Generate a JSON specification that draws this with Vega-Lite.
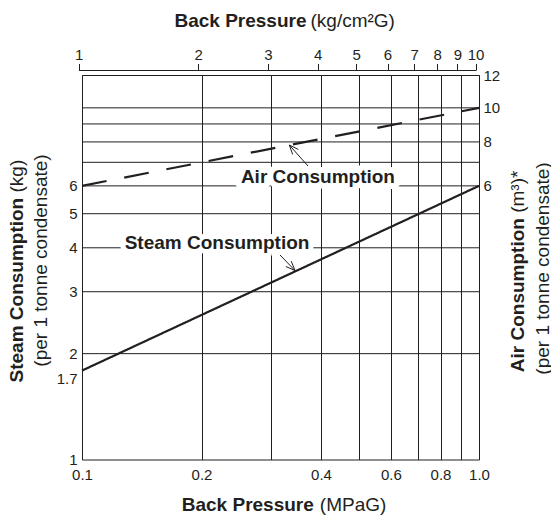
{
  "$schema": "https://vega.github.io/schema/vega-lite/v6.json",
  "width": 397,
  "height": 384.5,
  "autosize": {"type": "none"},
  "padding": {"left": 82, "top": 75, "right": 72, "bottom": 55.5},
  "background": "white",
  "config": {
    "font": "Liberation Sans",
    "view": {"stroke": "#231f20", "strokeWidth": 1},
    "axis": {
      "labelFont": "Liberation Sans",
      "titleFont": "Liberation Sans",
      "labelFontSize": 15,
      "titleFontSize": 19,
      "labelColor": "#231f20",
      "titleColor": "#231f20",
      "ticks": false,
      "tickSize": 0,
      "domain": false,
      "grid": false,
      "labelOverlap": false,
      "labelFlush": false,
      "labelBound": false
    }
  },
  "datasets": {
    "lines": [
      {"series": "Steam", "p": 0.1, "v": 1.79},
      {"series": "Steam", "p": 1.0, "v": 6.0},
      {"series": "Air", "p": 0.1, "v": 6.0},
      {"series": "Air", "p": 1.0, "v": 10.0}
    ],
    "grid": [{"v": 2}, {"v": 3}, {"v": 4}, {"v": 5}, {"v": 6}, {"v": 7}, {"v": 8}, {"v": 9}, {"v": 10}],
    "kg": [{"k": 1}, {"k": 2}, {"k": 3}, {"k": 4}, {"k": 5}, {"k": 6}, {"k": 7}, {"k": 8}, {"k": 9}, {"k": 10}],
    "labels": [
      {"label": "Air Consumption", "p": 0.3929, "v": 6.10},
      {"label": "Steam Consumption", "p": 0.2188, "v": 3.961}
    ],
    "arrows": [
      {"part": "airShaft", "seq": 1, "p": 0.371, "v": 6.83},
      {"part": "airShaft", "seq": 2, "p": 0.3328, "v": 7.84},
      {"part": "airHead", "seq": 1, "p": 0.3507, "v": 7.615},
      {"part": "airHead", "seq": 2, "p": 0.3328, "v": 7.84},
      {"part": "airHead", "seq": 3, "p": 0.3394, "v": 7.37},
      {"part": "steamShaft", "seq": 1, "p": 0.3153, "v": 3.816},
      {"part": "steamShaft", "seq": 2, "p": 0.344, "v": 3.446},
      {"part": "steamHead", "seq": 1, "p": 0.3263, "v": 3.538},
      {"part": "steamHead", "seq": 2, "p": 0.344, "v": 3.446},
      {"part": "steamHead", "seq": 3, "p": 0.3365, "v": 3.664}
    ]
  },
  "resolve": {
    "scale": {"x": "independent"},
    "axis": {"x": "independent", "y": "independent"}
  },
  "layer": [
    {
      "data": {"name": "grid"},
      "mark": {"type": "rule", "color": "#231f20", "strokeWidth": 1},
      "encoding": {
        "y": {
          "field": "v", "type": "quantitative",
          "scale": {"type": "log", "domain": [1, 12.4], "nice": false},
          "axis": {
            "orient": "right",
            "values": [6, 8, 10, 12.4],
            "labelExpr": "datum.value > 12 ? '12' : format(datum.value, 'd')",
            "labelPadding": 4,
            "title": "Air Consumption",
            "titleFontWeight": "bold",
            "titleAngle": 270,
            "titleAlign": "left",
            "titleBaseline": "middle",
            "titleX": 38.5,
            "titleY": 296.7
          }
        }
      }
    },
    {
      "data": {"name": "lines"},
      "mark": {"type": "line", "color": "#231f20", "strokeWidth": 2.2, "strokeCap": "butt"},
      "encoding": {
        "x": {
          "field": "p", "type": "quantitative",
          "scale": {"type": "log", "domain": [0.1, 1], "nice": false},
          "axis": {
            "orient": "bottom",
            "values": [0.1, 0.2, 0.3, 0.4, 0.5, 0.6, 0.7, 0.8, 0.9, 1],
            "labelExpr": "indexof([0.1, 0.2, 0.4, 0.6, 0.8, 1], datum.value) >= 0 ? format(datum.value, '.1f') : ''",
            "grid": true,
            "gridColor": "#231f20",
            "gridWidth": 1,
            "labelPadding": 8,
            "title": "Back Pressure",
            "titleFontWeight": "bold",
            "titleAlign": "right",
            "titleBaseline": "alphabetic",
            "titleX": 231.3,
            "titleY": 51.2
          }
        },
        "y": {
          "field": "v", "type": "quantitative",
          "scale": {"type": "log", "domain": [1, 12.4], "nice": false},
          "axis": {
            "orient": "left",
            "values": [1, 1.7, 2, 3, 4, 5, 6],
            "format": "~g",
            "labelPadding": 5,
            "title": "Steam Consumption",
            "titleFontWeight": "bold",
            "titleAngle": 270,
            "titleAlign": "left",
            "titleBaseline": "middle",
            "titleX": -65.5,
            "titleY": 307
          }
        },
        "strokeDash": {
          "field": "series", "type": "nominal",
          "scale": {"domain": ["Steam", "Air"], "range": [[1, 0], [25, 18]]},
          "legend": null
        }
      }
    },
    {
      "data": {"name": "kg"},
      "mark": {"type": "point", "opacity": 0},
      "encoding": {
        "x": {
          "field": "k", "type": "quantitative",
          "scale": {"type": "log", "domain": [1, 10], "range": [-3.4, 393.6], "nice": false},
          "axis": {
            "orient": "top",
            "values": [1, 2, 3, 4, 5, 6, 7, 8, 9, 10],
            "format": "d",
            "offset": 5,
            "ticks": true,
            "tickSize": 6.5,
            "tickColor": "#231f20",
            "tickWidth": 1,
            "domain": true,
            "domainColor": "#231f20",
            "domainWidth": 1,
            "labelPadding": 1.5,
            "title": "Back Pressure",
            "titleFontWeight": "bold",
            "titleAlign": "right",
            "titleBaseline": "alphabetic",
            "titleX": 224,
            "titleY": -44
          }
        }
      }
    },
    {
      "data": {"name": "lines"},
      "mark": {"type": "point", "opacity": 0},
      "encoding": {
        "x": {
          "field": "p", "type": "quantitative",
          "scale": {"type": "log", "domain": [0.1, 1], "nice": false},
          "axis": {
            "orient": "top", "labels": false,
            "title": "(kg/cm²G)",
            "titleFontWeight": "normal",
            "titleAlign": "left",
            "titleBaseline": "alphabetic",
            "titleX": 228,
            "titleY": -49
          }
        },
        "y": {
          "field": "v", "type": "quantitative",
          "scale": {"type": "log", "domain": [1, 12.4], "nice": false},
          "axis": {
            "orient": "left", "labels": false,
            "title": "(kg)",
            "titleFontWeight": "normal",
            "titleAngle": 270,
            "titleAlign": "left",
            "titleBaseline": "middle",
            "titleX": -65.5,
            "titleY": 117
          }
        }
      }
    },
    {
      "data": {"name": "lines"},
      "mark": {"type": "point", "opacity": 0},
      "encoding": {
        "x": {
          "field": "p", "type": "quantitative",
          "scale": {"type": "log", "domain": [0.1, 1], "nice": false},
          "axis": {
            "orient": "bottom", "labels": false,
            "title": "(MPaG)",
            "titleFontWeight": "normal",
            "titleAlign": "left",
            "titleBaseline": "alphabetic",
            "titleX": 237.3,
            "titleY": 51.2
          }
        },
        "y": {
          "field": "v", "type": "quantitative",
          "scale": {"type": "log", "domain": [1, 12.4], "nice": false},
          "axis": {
            "orient": "right", "labels": false,
            "title": "(m³)*",
            "titleFontWeight": "normal",
            "titleAngle": 270,
            "titleAlign": "left",
            "titleBaseline": "middle",
            "titleX": 38.5,
            "titleY": 137.3
          }
        }
      }
    },
    {
      "data": {"name": "lines"},
      "mark": {"type": "point", "opacity": 0},
      "encoding": {
        "y": {
          "field": "v", "type": "quantitative",
          "scale": {"type": "log", "domain": [1, 12.4], "nice": false},
          "axis": {
            "orient": "left", "labels": false,
            "title": "(per 1 tonne condensate)",
            "titleFontWeight": "normal",
            "titleAngle": 270,
            "titleAlign": "center",
            "titleBaseline": "middle",
            "titleX": -42,
            "titleY": 185
          }
        }
      }
    },
    {
      "data": {"name": "lines"},
      "mark": {"type": "point", "opacity": 0},
      "encoding": {
        "y": {
          "field": "v", "type": "quantitative",
          "scale": {"type": "log", "domain": [1, 12.4], "nice": false},
          "axis": {
            "orient": "right", "labels": false,
            "title": "(per 1 tonne condensate)",
            "titleFontWeight": "normal",
            "titleAngle": 270,
            "titleAlign": "center",
            "titleBaseline": "middle",
            "titleX": 63,
            "titleY": 193
          }
        }
      }
    },
    {
      "data": {"name": "labels"},
      "mark": {"type": "text", "font": "Liberation Sans", "fontWeight": "bold", "fontSize": 19, "align": "center", "baseline": "alphabetic", "fill": "white", "stroke": "white", "strokeJoin": "round"},
      "encoding": {
        "x": {"field": "p", "type": "quantitative", "scale": {"type": "log", "domain": [0.1, 1], "nice": false}, "axis": null},
        "y": {"field": "v", "type": "quantitative", "scale": {"type": "log", "domain": [1, 12.4], "nice": false}, "axis": null},
        "text": {"field": "label"},
        "strokeWidth": {"condition": {"test": "datum.label == 'Air Consumption'", "value": 12}, "value": 10}
      }
    },
    {
      "data": {"name": "labels"},
      "mark": {"type": "text", "font": "Liberation Sans", "fontWeight": "bold", "fontSize": 19, "align": "center", "baseline": "alphabetic", "fill": "#231f20"},
      "encoding": {
        "x": {"field": "p", "type": "quantitative", "scale": {"type": "log", "domain": [0.1, 1], "nice": false}, "axis": null},
        "y": {"field": "v", "type": "quantitative", "scale": {"type": "log", "domain": [1, 12.4], "nice": false}, "axis": null},
        "text": {"field": "label"}
      }
    },
    {
      "data": {"name": "arrows"},
      "mark": {"type": "line", "color": "#231f20", "strokeWidth": 1},
      "encoding": {
        "x": {"field": "p", "type": "quantitative", "scale": {"type": "log", "domain": [0.1, 1], "nice": false}, "axis": null},
        "y": {"field": "v", "type": "quantitative", "scale": {"type": "log", "domain": [1, 12.4], "nice": false}, "axis": null},
        "detail": {"field": "part"},
        "order": {"field": "seq", "type": "quantitative"}
      }
    }
  ]
}
